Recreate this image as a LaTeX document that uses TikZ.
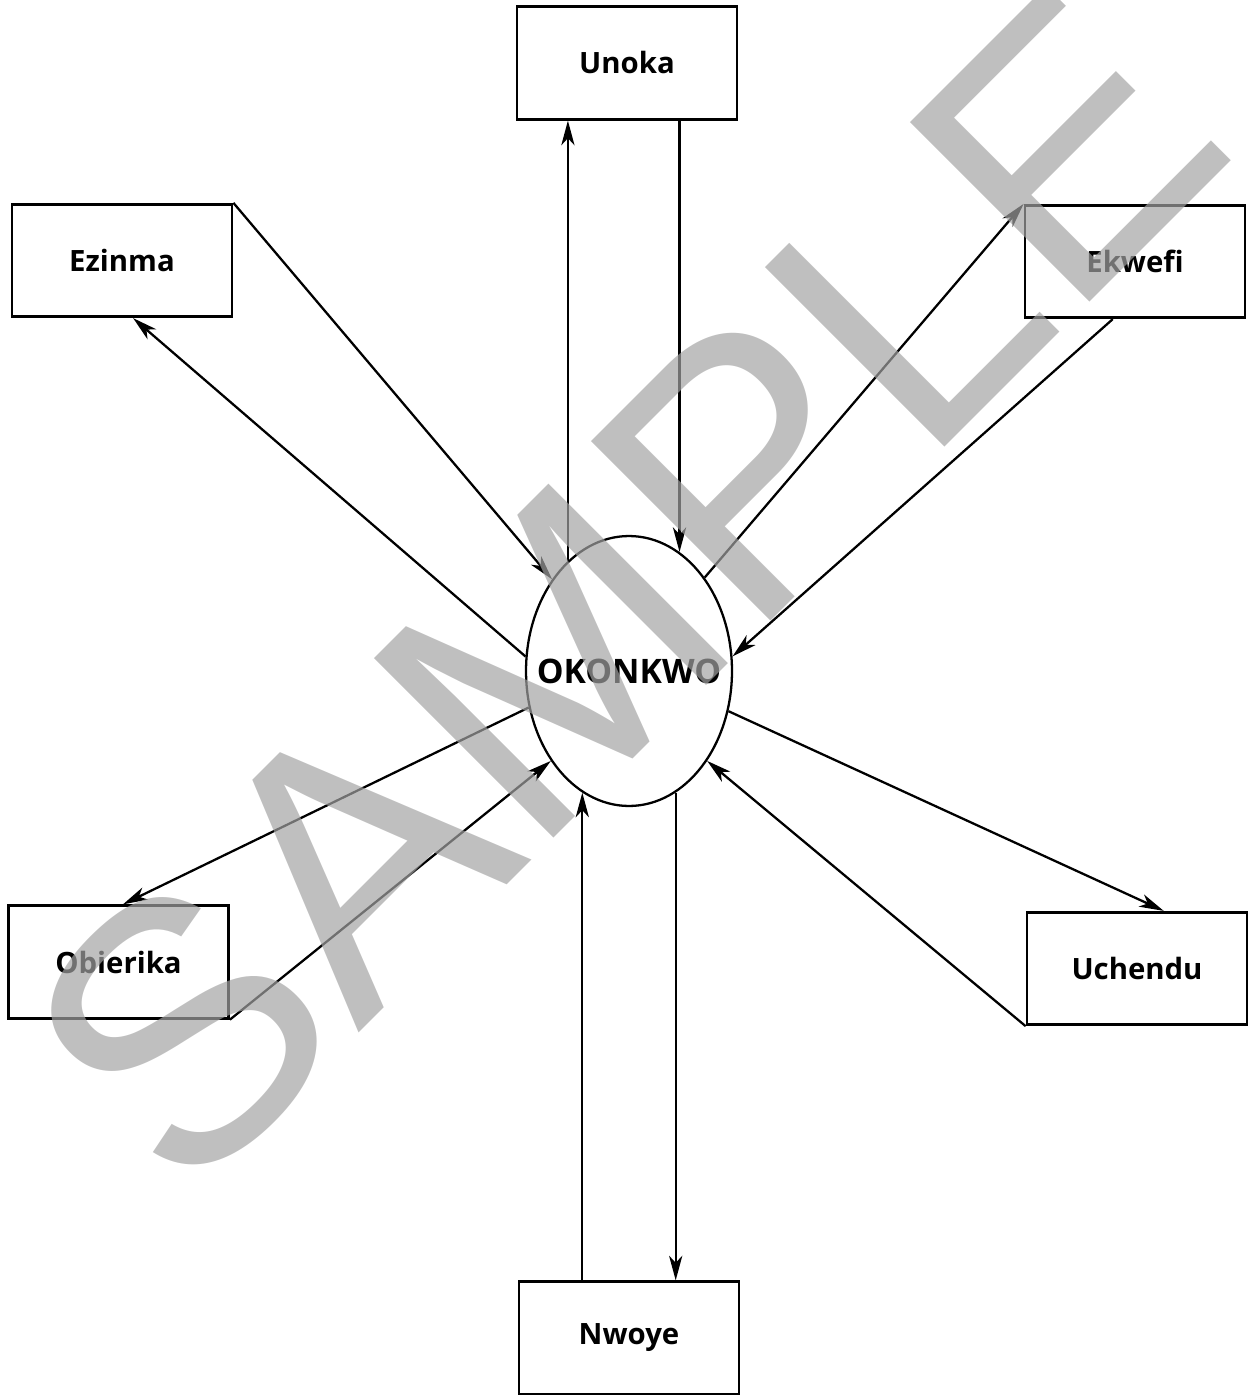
\documentclass[tikz,border=0pt]{standalone}
\usepackage{fontspec}
\setmainfont{Open Sans}
\newfontfamily\markfont{Liberation Sans}
\usetikzlibrary{arrows.meta,calc,shapes.geometric}

\begin{document}
\begin{tikzpicture}[x=0.02cm,y=-0.02cm,
        % 结点样式
        BoxNode/.style={rectangle,draw=black,line width=1.6pt,minimum width=4.4cm,minimum height=2.25cm,font=\bfseries\fontsize{16.7}{20}\selectfont},
        HubNode/.style={ellipse,draw=black,line width=1.3pt,minimum width=4.12cm,minimum height=5.4cm,inner sep=0pt,font=\bfseries\fontsize{19.2}{23}\selectfont},
        Link/.style={line width=1.3pt,-{Stealth[length=14pt,width=7.5pt,inset=4pt]}}]

        % 画布大小
        \useasboundingbox (0,0) rectangle (1249,1395);

        % 中心结点
        \node[HubNode] (Hub) at (629,671) {\makebox[0pt]{OKONKWO}};

        % 周围结点
        \foreach \n/\x/\y in {Unoka/627/63, Ezinma/122/260.5, Ekwefi/1135/261.5,
                Obierika/118.5/962, Uchendu/1137/968.5, Nwoye/629/1338}
        \node[BoxNode] (\n) at (\x,\y) {\n};

        % Unoka
        \draw[Link] (Hub.119.6) -- (Hub.119.6 |- Unoka.south);
        \draw[Link] (Hub.67.6 |- Unoka.south) -- (Hub.67.6);

        % Ezinma
        \draw[Link] (Ezinma.north east) -- (Hub.130.3);
        \draw[Link] (Hub.172) -- ($(Ezinma.south west)!0.55!(Ezinma.south east)$);

        % Ekwefi
        \draw[Link] (Hub.51.1) -- (Ekwefi.north west);
        \draw[Link] ($(Ekwefi.south west)!0.4!(Ekwefi.south east)$) -- (Hub.8.7);

        % Obierika
        \draw[Link] (Hub.200.9) -- ($(Obierika.north west)!0.52!(Obierika.north east)$);
        \draw[Link] (Obierika.south east) -- (Hub.229.1);

        % Uchendu
        \draw[Link] (Hub.338.6) -- ($(Uchendu.north west)!0.62!(Uchendu.north east)$);
        \draw[Link] (Uchendu.south west) -- (Hub.311.6);

        % Nwoye
        \draw[Link] (Hub.249.6 |- Nwoye.north) -- (Hub.249.6);
        \draw[Link] (Hub.291.2) -- (Hub.291.2 |- Nwoye.north);

        % 水印
        \node[rotate=45,anchor=base west,inner sep=0pt,text=black!36,text opacity=0.69,
              font=\markfont\fontsize{210}{210}\selectfont] (mark) at (184,1208) {SAMPLE};
    \end{tikzpicture}
\end{document}
